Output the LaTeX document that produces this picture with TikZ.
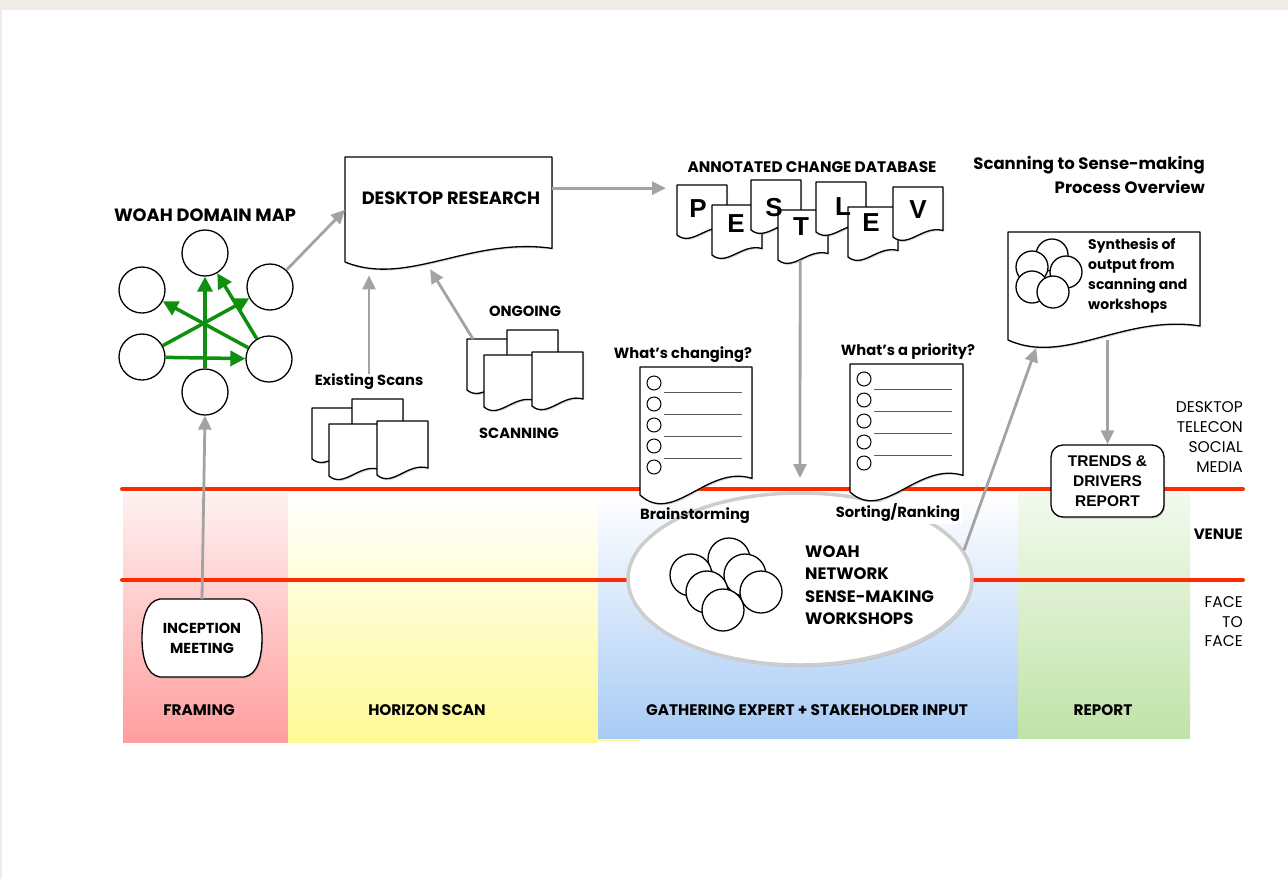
\documentclass[tikz,border=0pt]{standalone}
\usepackage{fontspec}
\setmainfont{Poppins}
\newfontfamily\arialf{Liberation Sans}
\usetikzlibrary{arrows.meta,shadows,calc,shapes.geometric}
\definecolor{bgbeige}{RGB}{239,236,229}
\definecolor{pinkc}{RGB}{255,158,158}
\definecolor{yellowc}{RGB}{255,250,150}
\definecolor{bluec}{RGB}{168,203,245}
\definecolor{greenc}{RGB}{192,227,168}
\definecolor{redline}{RGB}{255,42,0}
\definecolor{arrowgray}{RGB}{163,163,163}
\definecolor{arrowgreen}{RGB}{14,143,14}
\definecolor{ellgray}{RGB}{205,205,205}
\definecolor{linegray}{RGB}{90,90,90}
\tikzset{
 docst/.style={draw=black, line width=1.3pt, fill=white, line join=round, drop shadow={shadow xshift=1.2pt,shadow yshift=-1.5pt,opacity=0.3}},
 circ/.style={circle, draw=black, line width=1.3pt, fill=white, inner sep=0pt, minimum size=#1},
 circ/.default=46,
 garrow/.style={draw=arrowgray, line width=2.8pt, -{Triangle[length=14pt,width=13pt]}},
 grarrow/.style={draw=arrowgreen, line width=3.5pt, -{Triangle[length=15pt,width=15pt]}},
 redln/.style={draw=redline, line width=4pt, line cap=round},
 hb/.style={font=\bfseries\fontsize{17.8}{20}\selectfont, inner sep=0pt},
 sb/.style={font=\bfseries\fontsize{14.7}{20}\selectfont, inner sep=0pt},
 colb/.style={font=\bfseries\fontsize{15.3}{18}\selectfont, inner sep=0pt},
 rl/.style={font=\fontsize{15.5}{20}\selectfont, inner sep=0pt, anchor=east, align=right},
 letter/.style={font=\arialf\bfseries\fontsize{26}{26}\selectfont, inner sep=0pt},
}
\newcommand\wdoc[5]{%
 \draw[docst] (#2,#3) -- ({#2+#4},#3) -- ({#2+#4},{#3+0.87*#5}) .. controls ({#2+0.6*#4},{#3+0.76*#5}) and ({#2+0.3*#4},{#3+1.24*#5}) .. (#2,{#3+#5}) -- cycle;
 \node[inner sep=0pt, minimum width=#4, minimum height=#5, anchor=north west] (#1) at (#2,#3) {};}
\newcommand\stk[3]{%
 \wdoc{#1a}{#2}{#3}{50}{51}
 \wdoc{#1b}{#2+40}{#3-9}{51}{52}
 \wdoc{#1c}{#2+17}{#3+16}{50}{52}
 \wdoc{#1d}{#2+65}{#3+13}{51}{54}}
\begin{document}
\begin{tikzpicture}[x=1pt,y=-1pt]
\useasboundingbox (0,0) rectangle (1288,879);
\fill[bgbeige] (0,0) rectangle (1288,879);
\fill[white] (2,10) rectangle (1288,879);
% columns
\shade[top color=pinkc!15, bottom color=pinkc] (123,493) rectangle (288,742);
\shade[top color=white, bottom color=yellowc] (288,493) rectangle (598,742);
\fill[yellowc] (598,737) rectangle (640,741);
\shade[top color=white, bottom color=bluec] (598,493) rectangle (1018,738);
\shade[top color=greenc!20, bottom color=greenc] (1018,493) rectangle (1190,738);
\node[colb] (lfr) at (199,710) {FRAMING};
\node[colb] (lhs) at (427,710) {HORIZON SCAN};
\node[colb] (lge) at (807,710) {GATHERING EXPERT + STAKEHOLDER INPUT};
\node[colb] (lre) at (1103,710) {REPORT};
% red lines
\draw[redln] (122,489) -- (1243,489);
\draw[redln] (122,580) -- (1243,580);
% right labels
\node[rl] (rdesk) at (1243,437) {DESKTOP\\TELECON\\SOCIAL\\MEDIA};
\node[rl, font=\bfseries\fontsize{15}{20}\selectfont] (rvenue) at (1243,534) {VENUE};
\node[rl, font=\fontsize{15.5}{19.5}\selectfont] (rface) at (1243,622) {FACE\\TO\\FACE};
% title
\node[font=\bfseries\fontsize{16.5}{24}\selectfont, align=right, anchor=east, inner sep=0pt] (title) at (1205,175) {Scanning to Sense-making\\Process Overview};
% domain map
\node[hb] (dmtitle) at (205,215) {WOAH DOMAIN MAP};
\node[circ] (dm1) at (205,253) {};
\node[circ] (dm2) at (142,290) {};
\node[circ] (dm3) at (270,287) {};
\node[circ] (dm4) at (142,357) {};
\node[circ] (dm5) at (269,359) {};
\node[circ] (dm6) at (205,392) {};
\draw[grarrow] (dm6) -- (dm1);
\draw[grarrow] (dm4) -- (dm3);
\draw[grarrow] (dm4) -- (dm5);
\draw[grarrow] (dm5) -- (dm2);
\draw[grarrow] (dm5) -- (dm1);
% desktop research
\wdoc{desk}{345}{157}{207}{105}
\node[hb] (desktxt) at (451,198) {DESKTOP RESEARCH};
\draw[garrow] (dm3) -- (desk.west);
% scans
\stk{ex}{312}{408}
\node[sb] (exlbl) at (369,382) {Existing Scans};
\stk{og}{467}{339}
\node[sb] (oglbl) at (525,311) {ONGOING};
\node[sb] (sclbl) at (519,433) {SCANNING};
\draw[garrow, shorten >=13pt] (exlbl.north) -- (exlbl.north |- desk.south);
\draw[garrow, shorten >=8pt] ([xshift=6pt]oga.north west) -- ($(desk.south west)!0.39!(desk.south east)$);
% PESTLEV
\node[sb, font=\bfseries\fontsize{15.3}{20}\selectfont] (dblbl) at (812,167) {ANNOTATED CHANGE DATABASE};
\wdoc{pP}{677}{185}{50}{50}
\wdoc{pE}{712}{205}{50}{50}
\wdoc{pS}{751}{180}{50}{50}
\wdoc{pT}{778}{210}{50}{50}
\wdoc{pL}{816}{182}{50}{50}
\wdoc{pEE}{848}{207}{50}{50}
\wdoc{pV}{893}{187}{50}{50}
\node[letter] (lP) at (698,209) {P};
\node[letter] (lE) at (736,224) {E};
\node[letter] (lS) at (774,208) {S};
\node[letter] (lT) at (801,227) {T};
\node[letter] (lL) at (843,207) {L};
\node[letter] (lEE) at (871,223) {E};
\node[letter] (lV) at (918,210) {V};
\draw[garrow, shorten >=11pt] ([yshift=21.5pt]desk.east) -- ([yshift=21.5pt]desk.east -| pP.west);
\coordinate (dbend) at (800,478);
\draw[garrow] ([xshift=-3pt]pT.south) -- (dbend);
% ellipse
\node[ellipse, minimum width=344, minimum height=172, draw=ellgray, line width=3.5pt, fill=white, drop shadow={shadow xshift=1.5pt,shadow yshift=-2pt,opacity=0.35}] (ws) at (800,579) {};
\node[circ=42] (w1) at (729,559) {};
\node[circ=42] (w2) at (691,575) {};
\node[circ=42] (w3) at (745,575) {};
\node[circ=42] (w4) at (707,592) {};
\node[circ=42] (w5) at (761,592) {};
\node[circ=42] (w6) at (723,610) {};
\node[font=\bfseries\fontsize{16.5}{22.5}\selectfont, align=left, anchor=west, inner sep=0pt] (wstxt) at (805,585) {WOAH\\NETWORK\\SENSE-MAKING\\WORKSHOPS};
% checklists
\wdoc{chg}{640}{367}{112}{128}
\foreach \k in {0,...,4} \node[circ=14, line width=1pt] (chgc\k) at (654,{383+21*\k}) {};
\foreach \k in {0,...,3} \draw[line width=1pt, linegray] (664,{392+22*\k}) -- (742,{392+22*\k});
\wdoc{pri}{850}{364}{113}{128}
\foreach \k in {0,...,4} \node[circ=14, line width=1pt] (pric\k) at (864,{379+21*\k}) {};
\foreach \k in {0,...,3} \draw[line width=1pt, linegray] (874,{389+22*\k}) -- (952,{389+22*\k});
\node[sb] (chglbl) at (683,355) {What's changing?};
\node[sb] (prilbl) at (908,352) {What's a priority?};
\node[sb] (bslbl) at (695,516) {Brainstorming};
\node[sb, fill=white, inner sep=2pt] (srlbl) at (898,513) {Sorting/Ranking};
% synthesis
\wdoc{syn}{1008}{232}{192}{108}
\node[circ=32] (s1) at (1052,255) {};
\node[circ=32] (s2) at (1032,267) {};
\node[circ=32] (s3) at (1066,272) {};
\node[circ=32] (s4) at (1032,287) {};
\node[circ=32] (s5) at (1053,292) {};
\node[font=\bfseries\fontsize{14}{20}\selectfont, align=left, anchor=west, inner sep=0pt] (syntxt) at (1088,276) {Synthesis of\\output from\\scanning and\\workshops};
% trends
\node[draw, rounded corners=12pt, line width=1.3pt, fill=white, minimum width=113, minimum height=72, align=center, inner sep=0pt, font=\arialf\bfseries\fontsize{15.5}{20}\selectfont, drop shadow={shadow xshift=1.2pt,shadow yshift=-1.5pt,opacity=0.35}] (trends) at (1107.5,481) {TRENDS \&\\DRIVERS\\REPORT};
\draw[garrow, shorten >=8pt] (ws.10) -- ($(syn.south west)!0.16!(syn.south east)$);
\draw[garrow] (syn.south -| trends.north) -- (trends.north);
% inception
\draw[line width=1.3pt, fill=white, drop shadow={shadow xshift=1.2pt,shadow yshift=-1.5pt,opacity=0.3}] (160,599) -- (244,599) .. controls (258,601) and (262,620) .. (262,638) .. controls (262,656) and (258,675) .. (244,677) -- (160,677) .. controls (146,675) and (142,656) .. (142,638) .. controls (142,620) and (146,601) .. (160,599) -- cycle;
\node[font=\bfseries\fontsize{14.5}{20}\selectfont, align=center, minimum width=120, minimum height=78, inner sep=0pt] (incep) at (202,638) {INCEPTION\\MEETING};
\draw[garrow] (incep.north) -- (dm6.south);
\end{tikzpicture}
\end{document}
